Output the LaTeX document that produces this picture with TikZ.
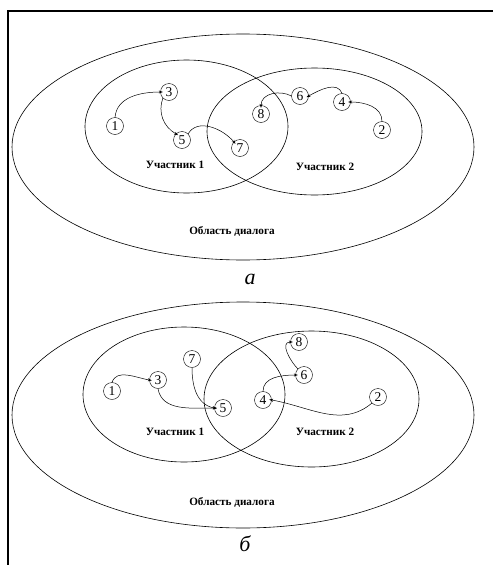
\documentclass[tikz,border=0pt]{standalone}
\usepackage{fontspec}
\setmainfont{Liberation Serif}
\usetikzlibrary{arrows.meta}
\begin{document}
\begin{tikzpicture}[x=1pt,y=-1pt,
  num/.style={circle,draw,inner sep=0pt,minimum size=17pt,font=\fontsize{13.5}{14}\selectfont},
  lbl/.style={font=\fontsize{11.2}{13}\selectfont\bfseries},
  captxt/.style={font=\fontsize{22}{24}\selectfont\itshape},
  conn/.style={-{Stealth[length=4pt,width=3pt]},line width=0.5pt,shorten >=-2.5pt},
  ring/.style={line width=0.6pt}]
\useasboundingbox (0,0) rectangle (493,565);
\draw[line width=1.1pt] (8,565) -- (8,11) -- (493,11);
% ---------- part a ----------
\draw[ring] (243,147) ellipse [x radius=231, y radius=113];
\draw[ring] (186.5,126.5) ellipse [x radius=101.5, y radius=66.5];
\draw[ring] (314.5,131.5) ellipse [x radius=107.5, y radius=63.5];
\node[num] (a1) at (115,126) {1};
\node[num] (a3) at (169,92) {3};
\node[num] (a5) at (182,140) {5};
\node[num] (a7) at (240,148) {7};
\node[num] (a8) at (261,114) {8};
\node[num] (a6) at (300,96) {6};
\node[num] (a4) at (342,102) {4};
\node[num] (a2) at (382,130) {2};
\node[lbl] (au1) at (175,165) {Участник 1};
\node[lbl] (au2) at (325,167) {Участник 2};
\node[lbl] (aob) at (232,231) {Область диалога};
\node[captxt] (acap) at (250,279) {а};
\draw[conn] (a1.north) to[out=85,in=180] (a3.west);
\draw[conn] (a3.south west) to[out=250,in=150] (a5.north west);
\draw[conn] (a5.north east) to[out=60,in=130] (a7.north west);
\draw[conn] (a2.north) to[out=90,in=0] (a4.east);
\draw[conn] (a4.north) to[out=110,in=30] (a6.east);
\draw[conn] (a6.west) to[out=150,in=90] (a8.north);
% ---------- part b ----------
\draw[ring] (243,415) ellipse [x radius=231, y radius=113];
\draw[ring] (184,394.5) ellipse [x radius=101, y radius=67.5];
\draw[ring] (311.5,399) ellipse [x radius=107.5, y radius=68];
\node[num] (b1) at (112,391) {1};
\node[num] (b3) at (158,380) {3};
\node[num] (b7) at (192,359) {7};
\node[num] (b5) at (223,408) {5};
\node[num] (b4) at (263,400) {4};
\node[num] (b6) at (304,375) {6};
\node[num] (b8) at (299,342) {8};
\node[num] (b2) at (378,397) {2};
\node[lbl] (bu1) at (175,432) {Участник 1};
\node[lbl] (bu2) at (325,432) {Участник 2};
\node[lbl] (bob) at (232,502) {Область диалога};
\node[captxt] (bcap) at (245,544) {б};
\draw[conn] (b1.north) to[out=70,in=170] (b3.west);
\draw[conn] (b3.south) to[out=-80,in=180] (b5.west);
\draw[conn] (b7.south) to[out=-90,in=170] (b5.west);
\draw[conn] (b2.south west) to[out=-140,in=-10] (b4.east);
\draw[conn] (b4.north) to[out=90,in=180] (b6.west);
\draw[conn] (b6.north west) to[out=135,in=180] (b8.west);
\end{tikzpicture}
\end{document}
